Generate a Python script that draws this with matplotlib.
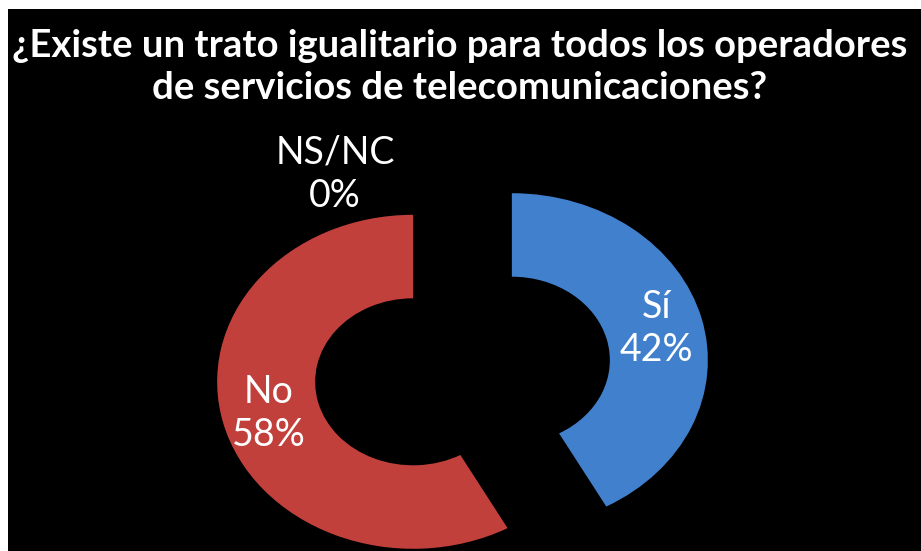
import matplotlib
matplotlib.use("Agg")
from matplotlib import pyplot as plt
from matplotlib.patches import Rectangle

categories = ['Sí', 'No', 'NS/NC']
values = [42, 58, 0]
colors = ['#4180CC', '#C2403C', '#7F7F7F']
explode = [0.26, 0.26, 0.0]

title = '¿Existe un trato igualitario para todos los operadores\nde servicios de telecomunicaciones?'

W, H = 921, 551
fig = plt.figure(figsize=(W / 100, H / 100), dpi=100, facecolor='white')

# black slide area, thin white margin top and left
bg = fig.add_axes([0, 0, 1, 1], zorder=0)
bg.add_patch(Rectangle((8 / W, 0), 1, (H - 9) / H, transform=bg.transAxes,
                       facecolor='black', edgecolor='none'))
bg.axis('off')

# axes placed so that 1 data unit = 196 px wide, 167 px tall
cx, cy = 462.5, 551 - 371
sx, sy = 196, 167
ax = fig.add_axes([(cx - 1.5 * sx) / W, (cy - 1.2 * sy) / H, 3.0 * sx / W, 2.4 * sy / H],
                  zorder=2)
ax.set_facecolor('none')

labels = [f'{c}\n{v}%' for c, v in zip(categories, values)]
wedges, texts = ax.pie(values, labels=labels, colors=colors, explode=explode,
                       startangle=90, counterclock=False, labeldistance=0.76,
                       wedgeprops=dict(width=0.5, linewidth=0),
                       textprops=dict(color='white', fontsize=27, family='Lato',
                                      linespacing=1.25))
ax.set_aspect('auto')
ax.set_xlim(-1.5, 1.5)
ax.set_ylim(-1.2, 1.2)
ax.axis('off')

for t in texts:
    t.set_ha('center')
    t.set_va('center')
# zero slice label sits above the red ring
texts[2].set_position((-0.65, 1.18))
texts[2].set_clip_on(False)

fig.text(460 / W, 1 - 67 / H, title, ha='center', va='center', color='white',
         fontsize=27.5, fontweight='bold', family='Lato', linespacing=1.3,
         zorder=3)

fig.savefig('out.png', dpi=100, facecolor='white')
